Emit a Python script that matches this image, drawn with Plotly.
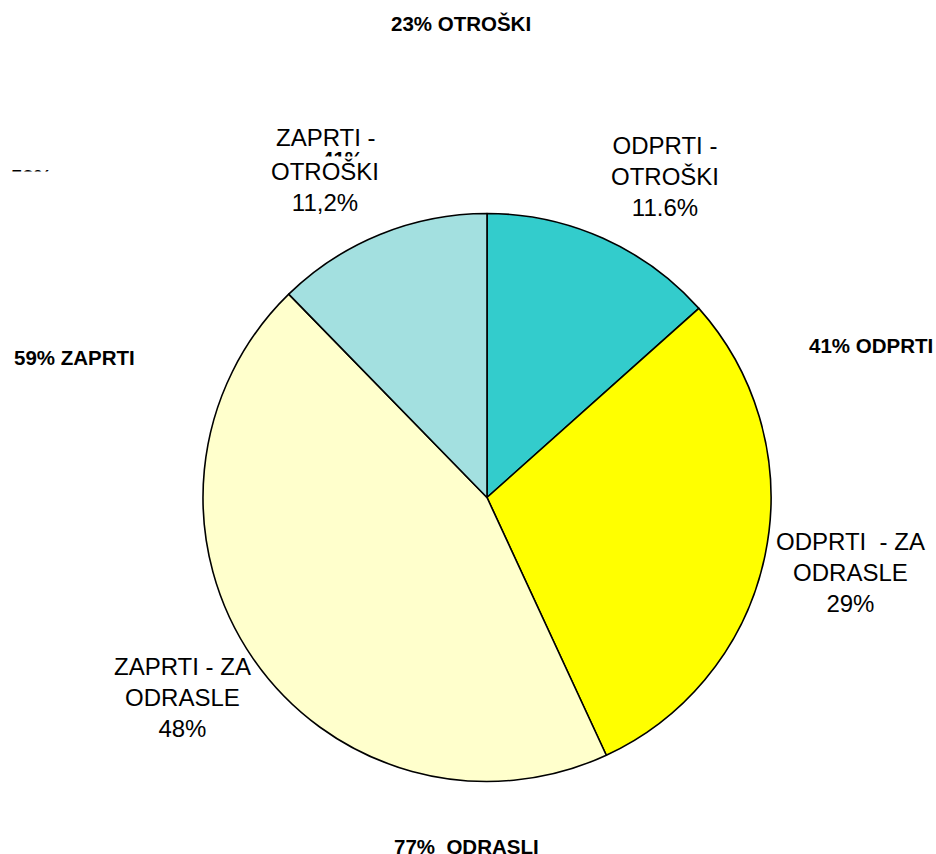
import plotly.graph_objects as go

segmenti = ["ODPRTI - OTROŠKI", "ODPRTI - ZA ODRASLE", "ZAPRTI - ZA ODRASLE", "ZAPRTI - OTROŠKI"]
deleži = [13.4, 29.7, 44.6, 12.3]
barve = ["#33CCCC", "#FFFF00", "#FFFFCC", "#A3E0E0"]

# group totals shown around the pie
skupine = ["23% OTROŠKI", "41% ODPRTI", "59% ZAPRTI", "77%  ODRASLI"]

W, H = 936, 854
cx, cy, r = 487, 497.5, 284


def px(x):
    return x / W


def py(y):
    return 1 - y / H


fig = go.Figure(go.Pie(
    labels=segmenti, values=deleži, sort=False, direction="clockwise", rotation=0,
    marker=dict(colors=barve, line=dict(color="black", width=1.6)),
    textinfo="none", hoverinfo="label+percent", showlegend=False,
    domain=dict(x=[px(cx - r), px(cx + r)], y=[py(cy + r), py(cy - r)]),
))

navaden = dict(family="Liberation Sans, Arial, sans-serif", size=24, color="black")
krepek = dict(family="Liberation Sans, Arial, sans-serif", size=20.5, color="black")


def napis(besedilo, x, y, font, **kw):
    fig.add_annotation(text=besedilo, x=px(x), y=py(y), xref="paper", yref="paper",
                       showarrow=False, font=font, xanchor="center", yanchor="middle", **kw)


# group labels (bold)
napis("<b>%s</b>" % skupine[0], 461, 23, krepek)
napis("<b>%s</b>" % skupine[1], 871, 345, krepek)
napis("<b>%s</b>" % skupine[2], 74, 357, krepek)
napis("<b>%s</b>" % skupine[3], 466, 846, krepek)
# leftovers partly hidden behind other boxes
napis("<b>59%</b>", 31, 176, krepek)
napis(" ", 40, 192, krepek, bgcolor="white", width=80, height=38)
napis("<b>41%</b>", 342, 158, krepek)

# slice labels
napis("ZAPRTI -", 326, 138, navaden)
napis("OTROŠKI<br>11,2%", 325, 187, navaden, bgcolor="white")
napis("ODPRTI -<br>OTROŠKI<br>11.6%", 665, 176, navaden)
napis("ODPRTI  - ZA<br>ODRASLE<br>29%", 850, 572, navaden)
napis("ZAPRTI - ZA<br>ODRASLE<br>48%", 182, 697, navaden)

fig.update_layout(width=W, height=H, margin=dict(l=0, r=0, t=0, b=0),
                  paper_bgcolor="white", plot_bgcolor="white")

# page body has a default 8px margin; drop it so the figure sits at the corner
fig.write_html("out.html", config={"displayModeBar": False},
               post_script="document.body.style.margin='0';")
